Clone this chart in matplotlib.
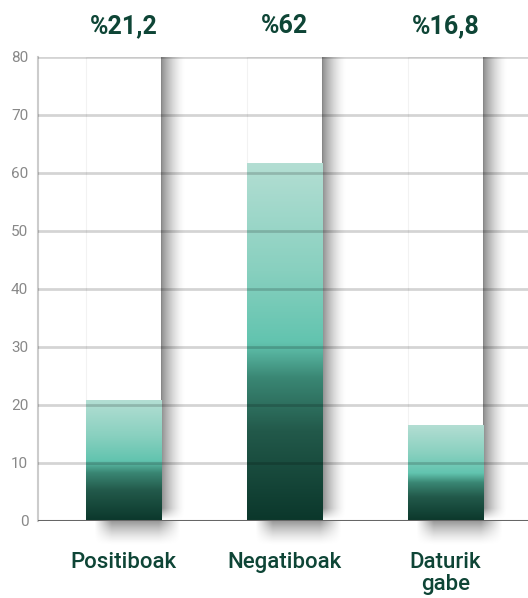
import numpy as np
import matplotlib
matplotlib.use("Agg")
import matplotlib.pyplot as plt
from matplotlib.colors import LinearSegmentedColormap

# data
categories = ["Positiboak", "Negatiboak", "Daturik\ngabe"]
values = [20.7, 61.7, 16.4]
value_labels = ["%21,2", "%62", "%16,8"]
yticks = [0, 10, 20, 30, 40, 50, 60, 70, 80]

dark = "#0e4536"
bar_cmap = LinearSegmentedColormap.from_list(
    "bar", [(0.0, "#0b372b"), (0.25, "#22594a"), (0.4, "#3a8774"),
            (0.5, "#62c4af"), (0.7, "#88d0bf"), (1.0, "#b3ded3")])

plt.rcParams['font.family'] = ['Roboto', 'DejaVu Sans']

fig = plt.figure(figsize=(5.28, 5.98), dpi=100)
ax = fig.add_axes([0.072, 0.1288, 0.928, 0.776])

x = np.arange(len(categories))
w = 0.466
ax.set_xlim(-0.531, 2.512)
ax.set_ylim(0, 80)

# shadow maps
sw = 0.15
hx = np.linspace(1, 0, 60) ** 1.6
vy = np.clip(np.linspace(0, 1, 200) / 0.025, 0, 1)[::-1]
side = np.zeros((200, 60, 4))
side[..., 3] = 0.45 * np.outer(vy, hx)
bx = np.linspace(0, 1, 80)
bx = np.clip(bx / 0.2, 0, 1) * np.clip((1 - bx) / 0.25, 0, 1)
by = np.linspace(1, 0, 30) ** 1.5
bottom = np.zeros((30, 80, 4))
bottom[..., 3] = 0.4 * np.outer(by, bx)

grad = np.linspace(1, 0, 256).reshape(-1, 1)

for xi, v in zip(x, values):
    left, right = xi - w / 2, xi + w / 2
    # white column behind the bar
    ax.add_patch(plt.Rectangle((left, 0), w, 80, facecolor="white",
                               edgecolor="#f2f2f2", lw=0.8, zorder=1))
    ax.imshow(side, extent=[right, right + sw, 0, 80], aspect="auto",
              zorder=1, interpolation="bilinear")
    ax.imshow(bottom, extent=[left + 0.05, right + 0.12, -4.3, 0], aspect="auto",
              zorder=1, interpolation="bilinear", clip_on=False)
    # gradient bar
    ax.imshow(grad, extent=[left, right, 0, v], aspect="auto", cmap=bar_cmap,
              vmin=0, vmax=1, zorder=2, interpolation="bilinear")

for lbl, xi in zip(value_labels, x):
    ax.text(xi, 85.3, lbl, ha="center", va="center", fontsize=18,
            fontweight="bold", color=dark)

ax.set_xlim(-0.531, 2.512)
ax.set_ylim(0, 80)
for t in yticks[1:]:
    ax.axhline(t, color="black", alpha=0.17, lw=2, zorder=3)
ax.axhline(0, color="#666666", lw=2.2, zorder=4)

ax.set_yticks(yticks)
ax.set_xticks(x)
ax.set_xticklabels(categories, fontsize=16, color=dark, linespacing=1.1,
                   fontweight="medium")
ax.tick_params(axis="x", length=0, pad=22)
ax.tick_params(axis="y", length=0, pad=7, labelsize=11, labelcolor="#888888")
ax.spines["left"].set_color("#cccccc")
ax.spines["left"].set_linewidth(1.5)
for s in ["top", "right", "bottom"]:
    ax.spines[s].set_visible(False)

fig.savefig("out.png", dpi=100)
